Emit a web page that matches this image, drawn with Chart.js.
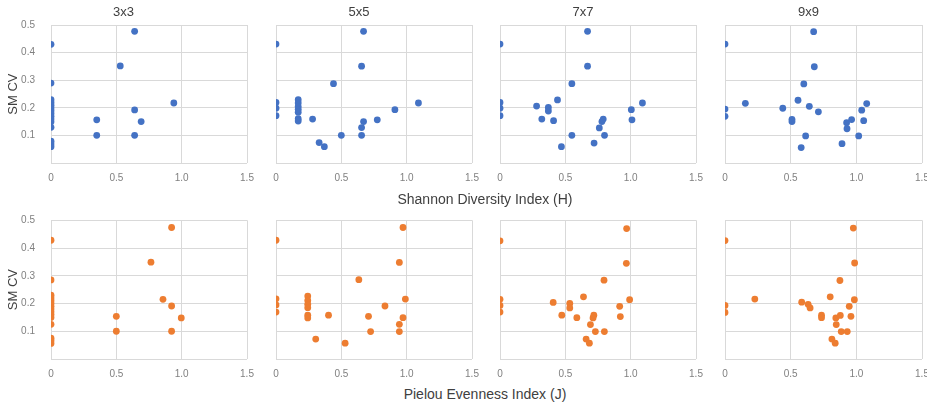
<!DOCTYPE html>
<html>
<head>
<meta charset="utf-8">
<script src="https://cdn.jsdelivr.net/npm/chart.js@4.4.1/dist/chart.umd.min.js"></script>
<style>
  html, body { margin: 0; padding: 0; background: #fff; overflow: hidden; }
  body { width: 927px; height: 406px; position: relative; font-family: "Liberation Sans", Arial, sans-serif; }
  canvas { position: absolute; }
  .axis-title { position: absolute; left: 0; width: 970px; text-align: center; font-size: 14px; color: #404040; line-height: 16px; }
</style>
</head>
<body>
<canvas id="h3"></canvas>
<canvas id="h5"></canvas>
<canvas id="h7"></canvas>
<canvas id="h9"></canvas>
<canvas id="j3"></canvas>
<canvas id="j5"></canvas>
<canvas id="j7"></canvas>
<canvas id="j9"></canvas>
<div class="axis-title" style="top:191px">Shannon Diversity Index (H)</div>
<div class="axis-title" style="top:386px">Pielou Evenness Index (J)</div>
<script>
// panel titles / ticks
const panelTitles = ['3x3', '5x5', '7x7', '9x9']
const xTicks = [0, 0.5, 1, 1.5]
const yTicks = [0.1, 0.2, 0.3, 0.4, 0.5]

// Shannon diversity (H) vs SM CV
const h3x3X = [0, 0, 0, 0, 0, 0, 0, 0, 0, 0, 0, 0, 0, 0, 0, 0.35, 0.35, 0.53, 0.64, 0.64, 0.64, 0.69, 0.94]
const h3x3Y = [0.43, 0.29, 0.23, 0.22, 0.21, 0.2, 0.19, 0.18, 0.17, 0.16, 0.15, 0.13, 0.08, 0.07, 0.06, 0.157, 0.101, 0.352, 0.477, 0.193, 0.101, 0.151, 0.218]

const h5x5X = [0, 0, 0, 0, 0.17, 0.17, 0.17, 0.17, 0.17, 0.17, 0.17, 0.28, 0.33, 0.37, 0.44, 0.5, 0.655, 0.67, 0.655, 0.655, 0.67, 0.775, 0.91, 1.09]
const h5x5Y = [0.431, 0.22, 0.199, 0.172, 0.23, 0.218, 0.205, 0.195, 0.185, 0.161, 0.153, 0.16, 0.075, 0.06, 0.288, 0.101, 0.351, 0.477, 0.129, 0.101, 0.151, 0.157, 0.194, 0.218]

const h7x7X = [0, 0, 0, 0, 0.28, 0.32, 0.37, 0.37, 0.41, 0.44, 0.47, 0.55, 0.55, 0.67, 0.67, 0.72, 0.76, 0.78, 0.79, 0.8, 1.005, 1.01, 1.09]
const h7x7Y = [0.431, 0.22, 0.199, 0.172, 0.207, 0.16, 0.202, 0.189, 0.154, 0.229, 0.06, 0.288, 0.101, 0.477, 0.351, 0.073, 0.128, 0.151, 0.16, 0.101, 0.194, 0.157, 0.218]

const h9x9X = [0, 0, 0, 0.155, 0.44, 0.51, 0.51, 0.556, 0.58, 0.6, 0.614, 0.642, 0.675, 0.68, 0.711, 0.891, 0.929, 0.926, 0.964, 1.018, 1.041, 1.056, 1.079]
const h9x9Y = [0.431, 0.196, 0.17, 0.217, 0.199, 0.159, 0.151, 0.228, 0.057, 0.287, 0.099, 0.206, 0.476, 0.349, 0.186, 0.071, 0.125, 0.147, 0.158, 0.099, 0.192, 0.154, 0.216]

// Pielou evenness (J) vs SM CV
const j3x3X = [0, 0, 0, 0, 0, 0, 0, 0, 0, 0, 0, 0, 0, 0, 0, 0.5, 0.5, 0.765, 0.857, 0.923, 0.923, 0.923, 0.997]
const j3x3Y = [0.428, 0.285, 0.23, 0.22, 0.21, 0.2, 0.19, 0.18, 0.17, 0.16, 0.15, 0.125, 0.075, 0.066, 0.056, 0.154, 0.1, 0.349, 0.215, 0.474, 0.191, 0.1, 0.148]

const j5x5X = [0, 0, 0, 0, 0.243, 0.243, 0.243, 0.243, 0.243, 0.243, 0.304, 0.402, 0.529, 0.634, 0.708, 0.724, 0.834, 0.944, 0.972, 0.944, 0.944, 0.972, 0.99]
const j5x5Y = [0.428, 0.217, 0.195, 0.169, 0.227, 0.211, 0.197, 0.185, 0.158, 0.148, 0.072, 0.158, 0.057, 0.286, 0.154, 0.099, 0.191, 0.348, 0.474, 0.125, 0.099, 0.149, 0.216]

const j7x7X = [0, 0, 0, 0, 0.407, 0.473, 0.534, 0.534, 0.588, 0.639, 0.659, 0.684, 0.692, 0.712, 0.718, 0.73, 0.796, 0.799, 0.916, 0.921, 0.967, 0.969, 0.992]
const j7x7Y = [0.426, 0.215, 0.193, 0.169, 0.204, 0.158, 0.2, 0.184, 0.149, 0.224, 0.072, 0.057, 0.124, 0.148, 0.158, 0.099, 0.284, 0.099, 0.19, 0.153, 0.345, 0.47, 0.214]

const j9x9X = [0, 0, 0, 0.227, 0.584, 0.633, 0.648, 0.735, 0.735, 0.801, 0.814, 0.839, 0.844, 0.847, 0.875, 0.878, 0.885, 0.931, 0.946, 0.959, 0.977, 0.987, 0.985]
const j9x9Y = [0.427, 0.193, 0.168, 0.216, 0.205, 0.197, 0.184, 0.158, 0.149, 0.224, 0.072, 0.057, 0.148, 0.124, 0.283, 0.157, 0.099, 0.099, 0.19, 0.154, 0.472, 0.346, 0.214]

const BLUE = '#4472C4'
const ORANGE = '#ED7D31'
const GRID = '#d9d9d9'
const FONT = '"Liberation Sans", Arial, sans-serif'

// column placement (canvases overlap, they are transparent)
const cols = [
  { left: 0, width: 277, yWidth: 51, padRight: 30 },
  { left: 245.5, width: 255.5, yWidth: 30, padRight: 30 },
  { left: 470, width: 256, yWidth: 30, padRight: 30 },
  { left: 694.5, width: 256.5, yWidth: 30, padRight: 30 },
]

const makePanel = (id, xs, ys, color, col, row, title) => {
  const canvas = document.getElementById(id)
  const first = col === 0
  const c = cols[col]
  const top = row === 0 ? 0 : 198
  const height = row === 0 ? 190 : 187
  canvas.style.left = c.left + 'px'
  canvas.style.top = top + 'px'
  canvas.width = Math.round(c.width)
  canvas.height = height

  const points = xs.map((x, i) => ({ x, y: ys[i] }))

  new Chart(canvas, {
    type: 'scatter',
    data: {
      datasets: [{
        data: points,
        backgroundColor: color,
        borderColor: color,
        borderWidth: 0,
        pointRadius: 3.4,
        pointHoverRadius: 3.4,
      }]
    },
    options: {
      responsive: false,
      animation: false,
      events: [],
      layout: { padding: { top: row === 0 ? 0 : 22.3, right: c.padRight, left: 0, bottom: 0 } },
      plugins: {
        legend: { display: false },
        tooltip: { enabled: false },
        title: {
          display: row === 0,
          text: title,
          color: '#404040',
          font: { family: FONT, size: 13, weight: 'normal' },
          padding: { top: 5, bottom: 4.4 },
        },
      },
      scales: {
        x: {
          type: 'linear',
          min: xTicks[0],
          max: xTicks[xTicks.length - 1],
          afterBuildTicks: (s) => { s.ticks = xTicks.map(v => ({ value: v })) },
          ticks: { padding: 9, color: '#808080', font: { family: FONT, size: 10 } },
          grid: { color: GRID, drawTicks: false },
          border: { display: false },
          afterFit: (s) => { s.height = row === 0 ? 26.7 : 26 },
        },
        y: {
          min: 0,
          max: 0.5,
          afterBuildTicks: (s) => { s.ticks = [0].concat(yTicks).map(v => ({ value: v })) },
          ticks: {
            display: first,
            padding: 16,
            color: '#808080',
            font: { family: FONT, size: 10 },
            callback: (v) => v === 0 ? '' : v.toFixed(1),
          },
          title: {
            display: first,
            text: 'SM CV',
            color: '#404040',
            font: { family: FONT, size: 13 },
            padding: { top: 6, bottom: 0 },
          },
          grid: { color: GRID, drawTicks: false },
          border: { display: false },
          afterFit: (s) => { s.width = c.yWidth },
        }
      }
    }
  })
}

makePanel('h3', h3x3X, h3x3Y, BLUE, 0, 0, panelTitles[0])
makePanel('h5', h5x5X, h5x5Y, BLUE, 1, 0, panelTitles[1])
makePanel('h7', h7x7X, h7x7Y, BLUE, 2, 0, panelTitles[2])
makePanel('h9', h9x9X, h9x9Y, BLUE, 3, 0, panelTitles[3])
makePanel('j3', j3x3X, j3x3Y, ORANGE, 0, 1, '')
makePanel('j5', j5x5X, j5x5Y, ORANGE, 1, 1, '')
makePanel('j7', j7x7X, j7x7Y, ORANGE, 2, 1, '')
makePanel('j9', j9x9X, j9x9Y, ORANGE, 3, 1, '')
</script>
</body>
</html>
